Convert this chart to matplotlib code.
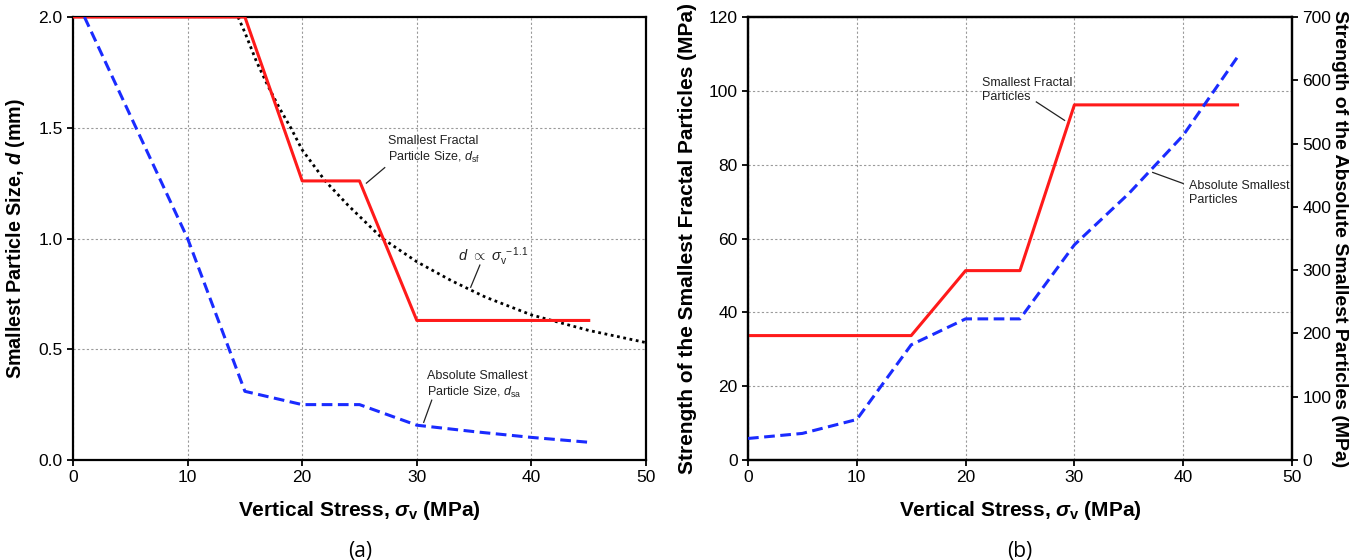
import numpy as np
import matplotlib
matplotlib.use("Agg")
import matplotlib.pyplot as plt

# Panel (a): smallest particle size vs vertical stress
sig_sf = [0, 15, 20, 25, 30, 45]
d_sf = [2.0, 2.0, 1.26, 1.26, 0.63, 0.63]
sig_sa = [1, 10, 15, 20, 25, 30, 35, 40, 45]
d_sa = [2.0, 1.0, 0.31, 0.25, 0.25, 0.157, 0.128, 0.102, 0.08]
# dotted power-law trend
sig_fit = [14.4, 15, 16, 17, 18, 19, 20, 22, 24, 27, 30, 33, 36, 40, 45, 50]
d_fit = [2.0, 1.93, 1.80, 1.69, 1.59, 1.50, 1.40, 1.26, 1.15, 1.0, 0.895, 0.81, 0.735, 0.655, 0.585, 0.53]

# Panel (b): strength of particles vs vertical stress
sig_b = [0, 15, 20, 25, 30, 45]
str_sf = [33.7, 33.7, 51.3, 51.3, 96.2, 96.2]
sig_b2 = [0, 5, 10, 15, 20, 25, 30, 35, 40, 45]
str_sa = [34, 42, 64, 182, 223, 223, 340, 421, 513, 637]

plt.rcParams['font.family'] = ['Liberation Sans', 'DejaVu Sans']
plt.rcParams['mathtext.fontset'] = 'custom'
plt.rcParams['mathtext.rm'] = 'Liberation Sans'
plt.rcParams['mathtext.it'] = 'Liberation Sans:italic:bold'
plt.rcParams['mathtext.bf'] = 'Liberation Sans:bold'
plt.rcParams['mathtext.sf'] = 'Liberation Sans:italic'

RED = '#ff1a1a'
BLUE = '#1a2bff'
GRID = dict(color='#9a9a9a', linestyle=(0, (2, 2)), linewidth=0.8)
LAB = dict(fontsize=15, fontweight='bold')
ANN = dict(fontsize=9, color='#222222', linespacing=1.25)

fig = plt.figure(figsize=(13.67, 5.6), dpi=100)
ax1 = fig.add_axes([0.0534, 0.1786, 0.4192, 0.791])
ax2 = fig.add_axes([0.5472, 0.1786, 0.3979, 0.791])


def style(ax):
    for s in ax.spines.values():
        s.set_linewidth(1.6)
    ax.tick_params(labelsize=12.5, width=1.3, length=4, direction='out')
    ax.grid(True, **GRID)
    ax.set_axisbelow(True)


# ---- (a)
ax1.plot(sig_fit, d_fit, color='black', linestyle=(0, (1, 1.3)), linewidth=2.0, zorder=3)
ax1.plot(sig_sf, d_sf, color=RED, linewidth=2.2, zorder=4)
ax1.plot(sig_sa, d_sa, color=BLUE, linewidth=2.2, linestyle=(0, (3.5, 1.8)), zorder=4)
ax1.set_xlim(0, 50)
ax1.set_ylim(0, 2.0)
ax1.set_xticks([0, 10, 20, 30, 40, 50])
ax1.set_yticks([0.0, 0.5, 1.0, 1.5, 2.0])
ax1.set_yticklabels(['0.0', '0.5', '1.0', '1.5', '2.0'])
style(ax1)
ax1.set_xlabel(r'Vertical Stress, $\sigma_\mathbf{v}$ (MPa)', labelpad=10, **LAB)
ax1.set_ylabel(r'Smallest Particle Size, $d$ (mm)', labelpad=8, fontsize=14.2, fontweight='bold')

ax1.text(27.5, 1.35, 'Smallest Fractal\nParticle Size, $\\mathsf{d}_{\\mathrm{sf}}$', **ANN)
ax1.plot([25.6, 27.2], [1.25, 1.32], color='#222222', linewidth=0.9)
ax1.text(33.6, 0.9, r'$\mathsf{d}\ \propto\ \mathsf{\sigma}_\mathrm{v}^{\ -1.1}$', fontsize=10.5, color='#222222')
ax1.plot([34.7, 35.5], [0.78, 0.88], color='#222222', linewidth=0.9)
ax1.text(30.9, 0.29, 'Absolute Smallest\nParticle Size, $\\mathsf{d}_{\\mathrm{sa}}$', **ANN)
ax1.plot([30.6, 31.3], [0.17, 0.27], color='#222222', linewidth=0.9)

# ---- (b)
ax3 = ax2.twinx()
ax2.plot(sig_b, str_sf, color=RED, linewidth=2.2, zorder=4)
ax3.plot(sig_b2, str_sa, color=BLUE, linewidth=2.2, linestyle=(0, (3.5, 1.8)), zorder=4)
ax2.set_xlim(0, 50)
ax2.set_ylim(0, 120)
ax3.set_ylim(0, 700)
ax2.set_xticks([0, 10, 20, 30, 40, 50])
ax2.set_yticks([0, 20, 40, 60, 80, 100, 120])
ax3.set_yticks([0, 100, 200, 300, 400, 500, 600, 700])
style(ax2)
for s in ax3.spines.values():
    s.set_linewidth(1.6)
ax3.tick_params(labelsize=12.5, width=1.3, length=4, direction='out')
ax2.set_xlabel(r'Vertical Stress, $\sigma_\mathbf{v}$ (MPa)', labelpad=10, **LAB)
ax2.set_ylabel('Strength of the Smallest Fractal Particles (MPa)', labelpad=8, **LAB)
ax3.set_ylabel('Strength of the Absolute Smallest Particles (MPa)', rotation=-90,
               va='center', ha='center', fontsize=14, fontweight='bold')
ax3.yaxis.set_label_coords(1.088, 0.5)

ax2.text(21.5, 97.5, 'Smallest Fractal\nParticles', **ANN)
ax2.plot([26.5, 29.1], [97, 92], color='#222222', linewidth=0.9)
ax2.text(40.5, 69.5, 'Absolute Smallest\nParticles', **ANN)
ax2.plot([37.2, 40.0], [77.9, 74.9], color='#222222', linewidth=0.9)

fig.text(0.2634, 0.006, '(a)', fontsize=15, ha='center', family=['Open Sans', 'DejaVu Sans'])
fig.text(0.7461, 0.006, '(b)', fontsize=15, ha='center', family=['Open Sans', 'DejaVu Sans'])

fig.savefig('out.png', dpi=100)
